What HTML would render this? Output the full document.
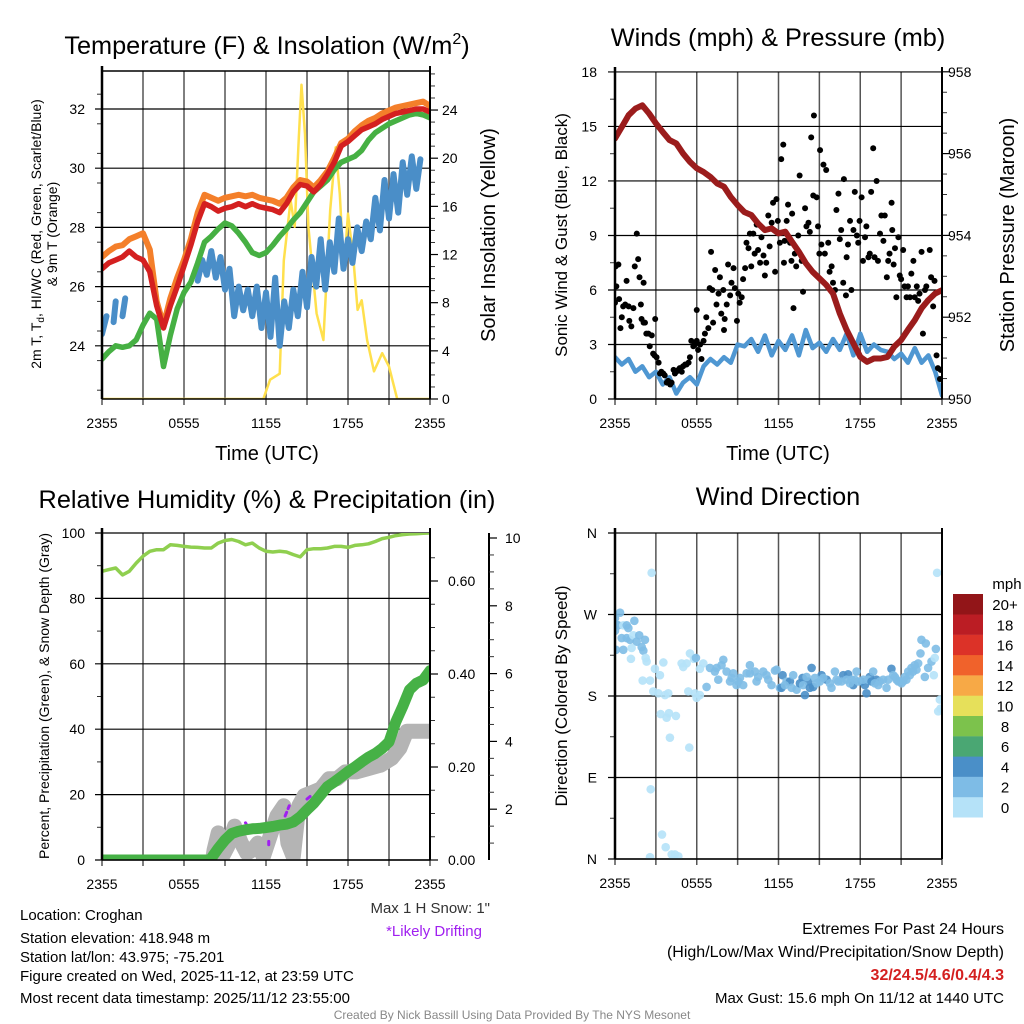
<!DOCTYPE html>
<html><head><meta charset="utf-8">
<style>
html,body{margin:0;padding:0;background:#fff;}
svg{display:block;font-family:"Liberation Sans",Arial,sans-serif;}
</style></head>
<body>
<svg id="fig" xmlns="http://www.w3.org/2000/svg" width="1024" height="1024" viewBox="0 0 1024 1024">
<defs>
<clipPath id="c1"><rect x="102" y="71" width="328" height="328"/></clipPath>
<clipPath id="c2"><rect x="615" y="72" width="327" height="327"/></clipPath>
<clipPath id="c3"><rect x="102" y="533" width="328" height="327"/></clipPath>
<clipPath id="c4"><rect x="615" y="533" width="327" height="326"/></clipPath>
</defs>
<rect width="1024" height="1024" fill="#fff"/>
<text x="267" y="54" font-size="25.3" text-anchor="middle">Temperature (F) &amp; Insolation (W/m<tspan font-size="16" dy="-10">2</tspan><tspan dy="10">)</tspan></text>
<text x="778" y="46" font-size="25.3" text-anchor="middle">Winds (mph) &amp; Pressure (mb)</text>
<text x="267" y="508" font-size="25.3" text-anchor="middle">Relative Humidity (%) &amp; Precipitation (in)</text>
<text x="778" y="505" font-size="25.3" text-anchor="middle">Wind Direction</text>

<text transform="translate(41,234) rotate(-90)" font-size="14" text-anchor="middle">2m T, T<tspan font-size="10" dy="3">d</tspan><tspan dy="-3">, HI/WC (Red, Green, Scarlet/Blue)</tspan></text>
<text transform="translate(57,234) rotate(-90)" font-size="14" text-anchor="middle">&amp; 9m T (Orange)</text>
<text transform="translate(495,235) rotate(-90)" font-size="20" text-anchor="middle">Solar Insolation (Yellow)</text>
<text x="267" y="460" font-size="20" text-anchor="middle">Time (UTC)</text>
<text x="778" y="460" font-size="20" text-anchor="middle">Time (UTC)</text>
<text transform="translate(567,235) rotate(-90)" font-size="17" text-anchor="middle">Sonic Wind &amp; Gust (Blue, Black)</text>
<text transform="translate(1014,235) rotate(-90)" font-size="20" text-anchor="middle">Station Pressure (Maroon)</text>
<text transform="translate(49,696) rotate(-90)" font-size="14" text-anchor="middle">Percent, Precipitation (Green), &amp; Snow Depth (Gray)</text>
<text transform="translate(567,696) rotate(-90)" font-size="17" text-anchor="middle">Direction (Colored By Speed)</text>

<text x="490" y="913" font-size="15" fill="#333" text-anchor="end">Max 1 H Snow: 1"</text>
<text x="434" y="936" font-size="15" fill="#a020f0" text-anchor="middle">*Likely Drifting</text>
<g font-size="15">
<text x="20" y="920">Location: Croghan</text>
<text x="20" y="943">Station elevation: 418.948 m</text>
<text x="20" y="962">Station lat/lon: 43.975; -75.201</text>
<text x="20" y="981">Figure created on Wed, 2025-11-12, at 23:59 UTC</text>
<text x="20" y="1003">Most recent data timestamp: 2025/11/12 23:55:00</text>
</g>
<g font-size="16" text-anchor="end">
<text x="1004" y="934">Extremes For Past 24 Hours</text>
<text x="1004" y="957">(High/Low/Max Wind/Precipitation/Snow Depth)</text>
<text x="1004" y="980" font-weight="bold" fill="#d42020">32/24.5/4.6/0.4/4.3</text>
<text x="1004" y="1003" font-size="15">Max Gust: 15.6 mph On 11/12 at 1440 UTC</text>
</g>
<text x="512" y="1019" font-size="12" fill="#888" text-anchor="middle">Created By Nick Bassill Using Data Provided By The NYS Mesonet</text>
<g id="layer"></g>
</svg>
<script>
// ---------- DATA ----------
const hourTicks = [0,6,12,18,24];
const hourTickLabels = ["2355","0555","1155","1755","2355"];
const halfHours = [0,0.5,1,1.5,2,2.5,3,3.5,4,4.5,5,5.5,6,6.5,7,7.5,8,8.5,9,9.5,10,10.5,11,11.5,12,12.5,13,13.5,14,14.5,15,15.5,16,16.5,17,17.5,18,18.5,19,19.5,20,20.5,21,21.5,22,22.5,23,23.5,24];
const tempTicks = [24,26,28,30,32];
const solarTicks = [0,4,8,12,16,20,24];
const airTemp = [26.6,26.8,26.9,27.0,27.2,27.0,26.9,26.5,25.35,24.6,25.35,26.0,26.7,27.4,28.2,28.8,28.7,28.55,28.65,28.7,28.8,28.7,28.8,28.7,28.65,28.6,28.5,28.8,29.2,29.45,29.4,29.2,29.45,29.8,30.2,30.75,30.9,31.1,31.3,31.4,31.5,31.65,31.75,31.85,31.9,31.95,32.0,32.0,31.9];
const temp9m = [27.0,27.2,27.35,27.4,27.6,27.7,27.8,27.25,25.5,24.7,25.6,26.3,26.9,27.6,28.5,29.1,29.0,28.9,29.0,29.05,29.1,29.05,29.1,29.0,28.95,28.9,28.8,29.0,29.35,29.6,29.55,29.35,29.6,29.9,30.35,30.85,31.0,31.25,31.45,31.6,31.7,31.85,31.95,32.05,32.1,32.15,32.2,32.25,32.1];
const dewPoint = [23.55,23.8,24.0,23.95,24.0,24.2,24.7,25.1,24.9,23.3,24.35,25.25,25.8,26.15,26.8,27.5,27.7,27.95,28.15,28.05,27.8,27.5,27.15,27.05,27.15,27.4,27.7,27.95,28.25,28.5,28.85,29.2,29.4,29.6,29.95,30.2,30.3,30.4,30.6,30.95,31.2,31.35,31.5,31.6,31.7,31.8,31.85,31.8,31.7];
const windChillTime = [0,0.33,0.67,0.85,1.0,1.33,1.5,1.7,2,7,7.33,7.67,8,8.33,8.67,9,9.33,9.67,10,10.33,10.67,11,11.33,11.67,12,12.33,12.67,13,13.33,13.67,14,14.33,14.67,15,15.33,15.67,16,16.33,16.67,17,17.33,17.67,18,18.33,18.67,19,19.33,19.67,20,20.33,20.67,21,21.33,21.67,22,22.33,22.67,23,23.3];
const windChill = [24.4,25.0,null,24.8,25.5,null,25.0,25.6,null,26.2,26.9,26.4,27.2,26.3,27.0,25.9,26.6,25.0,26.0,25.2,25.9,25.0,26.0,24.6,25.8,24.3,26.3,24.0,25.5,24.6,25.9,25.0,26.5,25.3,27.0,26.0,27.6,25.9,27.5,26.5,28.3,26.6,27.6,26.8,28.0,27.2,28.2,27.6,29.0,27.9,29.6,28.3,29.8,28.5,30.2,29.1,30.4,29.3,30.3];
const solarTime = [0,11.8,12.3,13.0,13.3,13.8,14.1,14.4,14.6,14.85,15.1,15.7,16.2,16.7,17.1,17.4,17.7,18.0,18.4,18.7,19.0,19.4,19.9,20.5,21.0,21.6,24];
const solar = [0,0,1.6,2.1,11.5,16.5,14.3,21.7,26.1,22,14.3,7.1,4.9,15.7,20.9,17.0,10.7,15.4,11.5,7.4,8.2,4.9,2.3,3.8,2.7,0,0];

const windTicks = [0,3,6,9,12,15,18];
const pressTicks = [950,952,954,956,958];
const sonicWind = [2.3,1.9,2.2,1.5,1.8,1.2,1.5,0.8,1.2,0.3,0.9,1.2,0.8,1.8,2.2,1.9,2.3,2.0,3.0,2.9,3.3,2.6,3.5,2.4,3.2,2.7,3.5,2.4,3.8,2.8,3.1,2.6,3.3,2.7,3.6,2.4,3.6,2.6,3.0,2.7,2.6,2.2,2.5,2.0,2.8,2.0,2.4,1.5,0.2];
const pressure = [956.37,956.65,956.94,957.1,957.18,956.98,956.74,956.53,956.33,956.25,956.0,955.8,955.64,955.55,955.43,955.27,955.19,954.94,954.74,954.57,954.5,954.29,954.13,954.17,954.05,954.09,953.84,953.6,953.32,953.11,952.95,952.79,952.58,952.09,951.69,951.36,951.03,950.91,950.99,950.99,951.03,951.28,951.44,951.69,951.93,952.22,952.42,952.58,952.66];
const gustTime = [0,0.05,0.1,0.25,0.3,0.4,0.5,0.6,0.75,0.85,1.0,1.05,1.2,1.35,1.45,1.6,1.7,1.8,1.9,1.95,2.1,2.1,2.2,2.3,2.45,2.55,2.7,2.8,2.9,3.05,2.95,3.2,3.3,3.4,3.55,3.65,3.8,3.9,4.05,4.15,4.3,4.4,4.5,4.65,4.75,4.9,5.0,5.15,5.25,5.4,5.5,5.6,5.75,5.85,6.0,6.0,6.1,6.25,6.35,6.5,6.6,6.7,6.85,6.95,7.05,7.15,7.2,7.35,7.45,7.6,7.7,7.8,7.95,8.0,8.05,8.2,8.3,8.45,8.55,8.7,8.8,8.95,9.05,9.15,9.3,9.4,9.55,9.65,9.8,9.9,10.0,10.15,10.25,10.4,10.5,10.65,10.75,10.9,11.0,11.1,11.25,11.35,11.5,11.6,11.75,11.85,11.95,12.1,12.2,12.35,12.4,12.45,12.6,12.7,12.85,12.95,13.0,13.1,13.2,13.3,13.45,13.55,13.7,13.8,13.95,14.05,14.2,14.3,14.4,14.55,14.6,14.8,14.9,15.0,15.05,15.15,15.3,15.4,15.5,15.65,15.75,15.9,16.0,16.15,16.25,16.4,16.5,16.6,16.75,16.8,16.95,17.0,17.1,17.25,17.35,17.5,17.6,17.75,17.85,17.95,18.1,18.2,18.35,18.45,18.6,18.7,18.8,18.95,19.05,19.2,19.3,19.45,19.55,19.7,19.8,19.95,20.05,20.15,20.3,20.35,20.45,20.55,20.65,20.8,20.9,21.0,21.15,21.25,21.4,21.5,21.65,21.75,21.9,22.0,22.15,22.25,22.35,22.5,22.6,22.75,22.85,22.95,23.1,23.2,23.35,23.45,23.6,23.7,23.85,23.9];
const gust = [5.3,7.3,6.2,7.4,5.5,3.9,4.5,5.1,5.2,6.5,5.1,4.3,4.0,5.0,7.3,9.1,7.7,6.7,5.2,4.4,6.4,4.2,4.2,3.6,3.6,2.9,3.5,2.5,2.4,2.3,4.4,2.0,1.4,1.5,1.4,1.3,0.9,1.0,0.8,0.9,1.6,1.4,1.5,1.6,1.7,1.5,1.8,1.9,1.9,2.0,2.3,3.2,2.9,3.0,3.2,4.9,2.7,3.0,2.2,3.2,3.6,4.5,3.9,6.1,8.1,6.0,4.2,7.1,5.2,5.8,6.7,4.7,6.0,3.8,4.4,5.2,7.4,5.7,6.4,7.2,6.1,4.3,5.8,5.3,5.6,6.6,7.2,8.6,8.3,9.1,7.3,9.1,8.0,9.6,8.2,7.5,8.9,7.9,6.8,7.5,10.1,8.4,9.7,10.8,7.0,11.0,9.8,8.6,13.2,14.0,7.5,8.7,9.8,10.7,8.6,7.6,10.2,5.0,8.0,7.3,9.0,12.3,7.6,5.9,10.5,9.5,9.7,9.2,14.4,11.2,15.6,11.1,9.5,8.0,13.7,8.5,12.9,8.0,12.6,8.6,7.0,7.3,6.4,6.0,10.4,11.3,8.8,9.3,6.4,12.1,5.7,7.8,8.5,9.8,6.0,9.3,11.4,9.0,8.6,9.8,11.1,7.6,8.9,9.5,7.8,8.0,11.4,13.8,7.8,12.0,7.6,9.1,10.1,8.7,10.1,6.7,7.6,8.0,10.8,9.3,7.4,8.3,5.6,8.9,6.8,6.6,8.2,6.2,5.6,6.2,5.6,6.9,7.6,5.6,6.2,5.4,5.8,8.1,3.6,6.0,6.2,5.4,8.2,6.7,5.1,6.5,2.4,1.7,1.1,1.6];

const rhTicks = [0,20,40,60,80,100];
const precipTicks = [0,0.2,0.4,0.6];
const snowTicks = [2,4,6,8,10];
const humidity = [88.3,88.8,89.3,87.2,88.3,90.8,92.9,94.4,94.9,94.9,96.4,96.2,95.9,95.7,95.6,95.4,95.4,96.9,97.7,98.0,97.4,96.4,96.9,95.4,94.4,94.2,94.4,94.2,93.4,92.7,94.9,95.2,95.2,95.4,95.9,95.9,95.6,96.2,96.4,96.7,97.4,98.3,98.7,99.2,99.5,99.7,99.8,99.9,100];
const precipTime = [0,7.9,8.5,9,9.5,10,10.5,11,11.5,12,12.5,13,13.5,14,14.5,15,15.5,16,16.5,17,17.5,18,18.5,19,19.5,20,20.5,21,21.5,22,22.5,23,23.5,24];
const precip = [0,0,0.025,0.043,0.057,0.062,0.065,0.067,0.068,0.070,0.072,0.075,0.077,0.082,0.093,0.108,0.122,0.14,0.158,0.168,0.179,0.19,0.20,0.211,0.221,0.229,0.24,0.254,0.297,0.33,0.366,0.38,0.387,0.407];
const snowTime = [7.9,8.2,8.5,8.8,9.2,9.7,10.2,10.6,11.0,11.4,11.8,12.3,12.8,13.3,13.6,14.0,14.4,14.8,15.4,16.0,16.6,17.2,17.8,18.6,19.5,20.4,21.2,21.8,22.3,24.0];
const snowDepth = [0,0.8,1.3,0.6,0.9,1.5,1.0,0.7,0.8,1.0,0.6,1.2,1.8,2.1,1.0,0.6,2.1,2.4,2.5,2.6,2.9,2.9,3.1,3.1,3.2,3.3,3.5,3.8,4.3,4.3];
const driftTime = [10.5,10.7, 12.2,12.2, 13.0,13.1, 13.4,13.7, 15.0,15.3];
const driftDepth = [1.6,1.45, 1.05,0.95, 1.6,1.55, 1.8,2.1, 2.3,2.4];

const dirTicks = [0,90,180,270,360];
const dirTickLabels = ["N","E","S","W","N"];
const dirTime = [0,0.37,0.07,0,0.24,0.61,0.86,0.98,1.42,0.49,0.86,1.1,1.34,1.78,1.59,1.96,2.2,0.07,0.61,1.22,2.08,1.17,2.32,2.25,2.69,2.93,3.3,2.03,2.57,2.81,3.18,3.55,3.67,3.91,3.35,3.79,3.96,4.47,4.03,5.45,2.62,3.45,3.72,2.57,4.16,4.28,4.4,4.65,4.89,5.26,5.79,5.5,5.01,5.38,5.87,6.23,5.99,6.48,6.23,5.94,
6.72,6.97,7.33,7.58,7.95,8.19,8.44,8.68,8.92,9.17,9.41,9.66,9.9,10.27,10.51,10.88,11.25,11.49,11.74,12.1,12.3,12.59,12.84,13.08,13.33,13.57,13.77,13.94,14.18,14.43,14.55,14.79,15.16,15.53,15.89,16.14,16.38,16.75,17.11,17.36,17.48,17.73,18.09,18.34,18.46,18.7,18.95,19.19,19.44,19.93,20.29,20.54,20.78,21.03,21.27,21.52,21.76,22.0,22.25,22.49,22.81,22.42,22.74,22.98,23.23,23.55,23.47,23.4,23.64,23.84,23.89,23.72,
7.46,7.82,8.56,9.05,9.9,10.39,11.12,11.86,12.22,12.47,12.96,13.81,14.06,14.3,14.67,15.04,15.28,15.77,16.26,16.63,16.99,17.24,17.6,17.85,18.22,18.58,18.83,19.07,19.32,19.68,20.05,20.42,20.66,20.9,21.15,21.39,21.64,21.88,22.13];
const dirDeg = [266,272,259,252,258,258,258,255,263,244,244,242,247,247,240,234,242,231,231,233,230,221,218,222,316,210,203,197,197,185,183,217,181,183,160,156,161,158,134,123,77,27,13,2,5,0,5,3,216,216,221,227,212,185,183,181,178,216,210,222,
190,211,207,198,220,207,196,205,192,200,192,205,214,207,201,207,198,192,208,189,203,196,196,203,187,194,200,181,196,211,190,194,203,198,189,207,196,203,204,198,192,207,196,192,183,201,207,198,196,189,210,201,196,194,201,207,211,214,216,242,238,227,201,211,218,232,222,203,316,176,166,163,
211,214,200,196,205,196,203,209,189,192,189,192,201,189,200,196,200,194,198,196,198,194,198,196,198,198,196,194,192,198,198,203,198,196,196,198,203,207,209];
const dirSpeed = [3,3,3,3,3,1,3,3,3,3,3,3,1,3,3,3,3,3,3,1,3,1,1,1,1,1,1,1,1,1,1,1,1,1,1,1,1,1,1,1,1,1,1,1,1,1,1,1,1,1,1,1,1,1,1,1,1,1,1,3,
3,3,3,3,3,3,3,3,3,3,3,3,3,3,3,3,3,3,3,3,5,3,5,3,3,5,5,5,5,5,5,3,5,5,3,3,3,5,5,3,5,3,5,5,5,5,3,5,3,3,5,3,3,3,3,3,3,3,3,3,3,3,3,3,3,3,1,1,1,1,1,1,
3,3,3,3,3,3,3,3,5,3,3,3,3,5,3,3,3,3,3,3,3,3,3,3,3,3,5,3,3,3,3,3,3,3,3,3,3,3,3];
const speedBins = ["0","2","4","6","8","10","12","14","16","18","20+"];
const speedColors = ["#b5e2f8","#7ebce6","#4a8fc8","#4aa773","#7cc24c","#e6e05a","#f7a946","#f0622b","#dc3228","#bb1d24","#921518"];

// ---------- HELPERS ----------
const NS = "http://www.w3.org/2000/svg";
const layer = document.getElementById("layer");
function mk(tag, attrs, parent){ const e=document.createElementNS(NS,tag); for(const k in attrs) e.setAttribute(k,attrs[k]); (parent||layer).appendChild(e); return e; }
function txt(s, attrs, parent){ const e=mk("text",attrs,parent); e.textContent=s; return e; }
const xA = t => 102 + t*13.667;
const xB = t => 615 + t*13.625;
const yTemp = v => 109 + (32-v)*29.6;
const ySolar = v => 399 - v*12.04;
const yWind = v => 399 - v*18.17;
const yPress = p => 399 - (p-950)*40.9;
const yRH = v => 860 - v*3.27;
const yPrecip = v => 860 - v*465;
const ySnow = v => 877 - v*33.9;
const yDir = d => 859 - d*0.9056;

function pathFrom(ts, vs, xf, yf){
  let d="", pen=false;
  for(let i=0;i<ts.length;i++){
    if(vs[i]===null){pen=false;continue;}
    const x=xf(ts[i]).toFixed(1), y=yf(vs[i]).toFixed(1);
    d += (pen?"L":"M")+x+","+y; pen=true;
  }
  return d;
}
function series(ts, vs, xf, yf, color, w, clip, name){
  const p = mk("path",{d:pathFrom(ts,vs,xf,yf),fill:"none",stroke:color,"stroke-width":w,"stroke-linejoin":"round","stroke-linecap":"round","clip-path":"url(#"+clip+")"});
  
  
  return p;
}

// ---------- FRAME / GRID ----------
function panelFrame(x0,x1,y0,y1,xf,name){
  for(let h=0;h<=24;h+=3){
    const l=mk("line",{x1:xf(h),x2:xf(h),y1:y0,y2:y1+6,stroke:"#555","stroke-width":1.5});
    
    
  }
  hourTicks.forEach((h,i)=>{
    const t=txt(hourTickLabels[i],{x:xf(h),y:y1+29,"font-size":14,"text-anchor":"middle"});
    
    
  });
}
function hgrid(ys,x0,x1,name){
  ys.forEach(y=>{
    const l=mk("line",{x1:x0-7,x2:x1,y1:y,y2:y,stroke:"#000","stroke-width":1.2});
    
    
  });
}
function axisLine(x,y0,y1,name,w){
  const l=mk("line",{x1:x,x2:x,y1:y0,y2:y1,stroke:"#000","stroke-width":w||2});
  
  
}
function minorTicks(x,ys,dir,name){
  ys.forEach(y=>{
    const l=mk("line",{x1:x,x2:x+dir*5,y1:y,y2:y,stroke:"#333","stroke-width":1});
    
    
  });
}
function tickLabels(vals,labels,x,yf,anchor,size,name){
  vals.forEach((v,i)=>{
    const t=txt(labels[i],{x:x,y:yf(v)+5,"font-size":size||14,"text-anchor":anchor});
    
    
  });
}

// Panel 1
panelFrame(102,430,71,399,xA,"temp");
hgrid(tempTicks.map(yTemp),102,430,"temp");
{ const ys=[]; for(let v=22.5; v<33.5; v+=1) ys.push(yTemp(v)); minorTicks(102,ys.filter(y=>y>71&&y<399),-1,"temp-left"); }
{ const ys=[]; for(let v=1; v<=27; v++) if(v%4) ys.push(ySolar(v)); minorTicks(430,ys.filter(y=>y>71&&y<399),1,"solar-right"); }
solarTicks.forEach(v=>{ const l=mk("line",{x1:430,x2:438,y1:ySolar(v),y2:ySolar(v),stroke:"#000","stroke-width":1.2});   });
tickLabels(tempTicks,tempTicks.map(String),85,yTemp,"end",14,"temp-y");
tickLabels(solarTicks,solarTicks.map(String),442,ySolar,"start",14,"solar-y");

series(solarTime,solar,xA,ySolar,"#ffe04d",2.5,"c1","solar-line");
series(windChillTime,windChill,xA,yTemp,"#4a8ec8",6,"c1","windchill-line");
series(halfHours,dewPoint,xA,yTemp,"#46b043",5.5,"c1","dewpoint-line");
series(halfHours,temp9m,xA,yTemp,"#f47f2a",6,"c1","temp-9m-line");
series(halfHours,airTemp,xA,yTemp,"#d42020",5.5,"c1","temp-2m-line");
axisLine(102,66,399,"temp-left-axis",2.5);
axisLine(430,66,399,"temp-right-axis",2);
{ const l=mk("line",{x1:102,x2:430,y1:71,y2:71,stroke:"#000","stroke-width":1.5});   }
{ const l=mk("line",{x1:102,x2:430,y1:399,y2:399,stroke:"#000","stroke-width":1.5});   }

// Panel 2
panelFrame(615,942,72,399,xB,"wind");
hgrid(windTicks.map(yWind),615,942,"wind");
{ const ys=[]; for(let v=1.5; v<18; v+=3) ys.push(yWind(v)); minorTicks(615,ys,-1,"wind-left"); }
{ const ys=[]; for(let p=950.5; p<958; p+=0.5) if(Math.abs(p-Math.round(p))>0.1 || Math.round(p)%2) ys.push(yPress(p)); minorTicks(942,ys,1,"press-right"); }
pressTicks.forEach(p=>{ const l=mk("line",{x1:942,x2:950,y1:yPress(p),y2:yPress(p),stroke:"#000","stroke-width":1.2});   });
tickLabels(windTicks,windTicks.map(String),597,yWind,"end",14,"wind-y");
tickLabels(pressTicks,pressTicks.map(String),948,yPress,"start",14,"press-y");
series(halfHours,sonicWind,xB,yWind,"#4f97d2",4.5,"c2","sonic-wind-line");
gustTime.forEach((t,i)=>{
  const c=mk("circle",{cx:xB(t),cy:yWind(gust[i]),r:3,fill:"#000","clip-path":"url(#c2)"});
  
  
});
series(halfHours,pressure,xB,yPress,"#9b1c1c",6,"c2","pressure-line");
axisLine(615,67,399,"wind-left-axis",2.5);
axisLine(942,67,399,"wind-right-axis",2);
{ const l=mk("line",{x1:615,x2:942,y1:399,y2:399,stroke:"#000","stroke-width":1.5});   }

// Panel 3
panelFrame(102,430,533,860,xA,"rh");
hgrid(rhTicks.map(yRH),102,430,"rh");
{ const ys=[]; for(let v=10; v<100; v+=20) ys.push(yRH(v)); minorTicks(102,ys,-1,"rh-left"); }
{ const ys=[]; for(let v=0.05; v<0.7; v+=0.05) ys.push(yPrecip(v)); minorTicks(430,ys.filter(y=>y>533),1,"precip-right"); }
precipTicks.forEach(v=>{ const l=mk("line",{x1:430,x2:438,y1:yPrecip(v),y2:yPrecip(v),stroke:"#000","stroke-width":1.2});   });
tickLabels(rhTicks,rhTicks.map(String),85,yRH,"end",14,"rh-y");
tickLabels(precipTicks,precipTicks.map(v=>v.toFixed(2)),448,yPrecip,"start",14,"precip-y");
axisLine(489,533,860,"snow-axis",2);
{ const ys=[]; for(let v=1; v<10; v+=0.5) if(v%2) ys.push(ySnow(v)); minorTicks(489,ys.filter(y=>y<860),1,"snow"); }
snowTicks.forEach(v=>{ const l=mk("line",{x1:489,x2:497,y1:ySnow(v),y2:ySnow(v),stroke:"#000","stroke-width":1.2});   });
tickLabels(snowTicks,snowTicks.map(String),505,ySnow,"start",14,"snow-y");
series(snowTime,snowDepth,xA,ySnow,"#b4b4b4",15,"c3","snow-depth-line");
for(let i=0;i<driftTime.length;i+=2){
  const p=mk("path",{d:"M"+xA(driftTime[i])+","+ySnow(driftDepth[i])+"L"+xA(driftTime[i+1])+","+ySnow(driftDepth[i+1]),stroke:"#a020f0","stroke-width":3,"stroke-dasharray":"4,4","stroke-linecap":"round",fill:"none"});
  
  
}
series(precipTime,precip,xA,yPrecip,"#46b146",11,"c3","precip-line");
series(halfHours,humidity,xA,yRH,"#8fcf4f",3.5,"c3","humidity-line");
axisLine(102,528,860,"rh-left-axis",2.5);
axisLine(430,528,860,"rh-right-axis",2);
{ const l=mk("line",{x1:102,x2:430,y1:860,y2:860,stroke:"#000","stroke-width":1.5});   }

// Panel 4
panelFrame(615,942,533,859,xB,"dir");
hgrid(dirTicks.map(yDir),615,942,"dir");
{ const ys=[]; for(let d=45; d<360; d+=90) ys.push(yDir(d)); minorTicks(615,ys,-1,"dir-left"); }
tickLabels(dirTicks,dirTickLabels,597,yDir,"end",14,"dir-y");
dirTime.forEach((t,i)=>{
  const bin=Math.min(10,Math.floor(dirSpeed[i]/2));
  const c=mk("circle",{cx:xB(t),cy:yDir(dirDeg[i]),r:4.3,fill:speedColors[bin],"fill-opacity":0.9,"clip-path":"url(#c4)"});
  
  
});
axisLine(615,528,859,"dir-left-axis",2.5);
axisLine(942,528,859,"dir-right-axis",2);
{ const l=mk("line",{x1:615,x2:942,y1:859,y2:859,stroke:"#000","stroke-width":1.5});   }

// Colorbar
const cb = mk("g",{});


speedBins.forEach((lab,i)=>{
  const y = 594 + (10-i)*20.3;
  const r=mk("rect",{x:953,y:y,width:30,height:20.5,fill:speedColors[i]},cb);
  
  
  const t=txt(lab,{x:1005,y:y+16,"font-size":15,"text-anchor":"middle"},cb);
  
  
});
{ const t=txt("mph",{x:1007,y:589,"font-size":15,"text-anchor":"middle"},cb);   }
</script>
</body></html>
